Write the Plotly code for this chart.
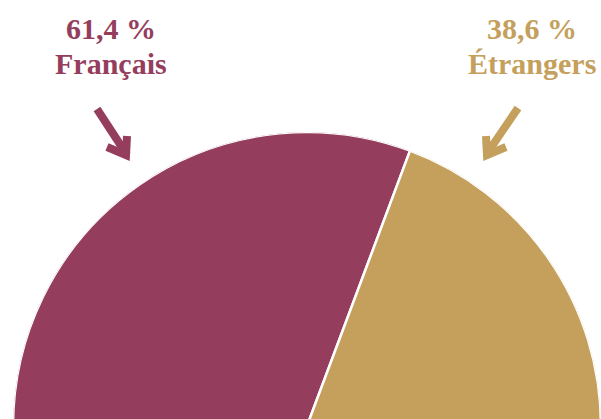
import plotly.graph_objects as go

# Data
categories = ["Français", "Étrangers"]
shares = [61.4, 38.6]
labels = ["61,4 %", "38,6 %"]
colors = ["#943D5D", "#C4A05C"]

W, H = 601, 426
R_PX = 294

total = sum(shares)
widths = [s / total * 180 for s in shares]
thetas = []
acc = 0
for w in widths:
    thetas.append(acc + w / 2)
    acc += w

fig = go.Figure()
fig.add_trace(go.Barpolar(
    r=[1] * len(categories),
    theta=thetas,
    width=widths,
    marker=dict(color=colors, line=dict(color="white", width=2.5)),
    text=categories,
    hoverinfo="text",
    showlegend=False,
))

def px(x):
    return x / W

def py(y):
    return (H - y) / H

fig.update_layout(
    width=W, height=H,
    margin=dict(l=0, r=0, t=0, b=0),
    paper_bgcolor="white",
    plot_bgcolor="white",
    polar=dict(
        domain=dict(x=[13 / W, 1], y=[0, R_PX / H]),
        sector=[0, 180],
        bgcolor="rgba(0,0,0,0)",
        radialaxis=dict(visible=False, range=[0, 1]),
        angularaxis=dict(visible=False, rotation=180, direction="clockwise"),
        bargap=0,
    ),
)

# Labels (two lines each)
label_x = [111, 532]
for x, lab, cat, col in zip(label_x, labels, categories, colors):
    for txt, y in ((lab, 29), (cat, 64)):
        fig.add_annotation(
            x=px(x), y=py(y), xref="paper", yref="paper",
            text=f"<b>{txt}</b>",
            showarrow=False, xanchor="center", yanchor="middle",
            font=dict(family="Liberation Serif", size=30, color=col),
        )

# Arrows (decorations)
arrows = [
    (colors[0], [(97, 109), (127, 155)], [(107, 147), (126, 155), (127, 136)]),
    (colors[1], [(518, 108), (486, 155)], [(486, 136), (487, 155), (506, 147)]),
]
for col, shaft, head in arrows:
    p = "M {} {} L {} {}".format(px(shaft[0][0]), py(shaft[0][1]), px(shaft[1][0]), py(shaft[1][1]))
    fig.add_shape(type="path", path=p, xref="paper", yref="paper",
                  line=dict(color=col, width=8))
    hp = "M {} {} L {} {} L {} {}".format(
        px(head[0][0]), py(head[0][1]), px(head[1][0]), py(head[1][1]),
        px(head[2][0]), py(head[2][1]))
    fig.add_shape(type="path", path=hp, xref="paper", yref="paper",
                  line=dict(color=col, width=8))

fig.write_html(
    "out.html",
    config={"displayModeBar": False},
    post_script="document.body.style.margin='0';document.body.style.overflow='hidden';",
)
